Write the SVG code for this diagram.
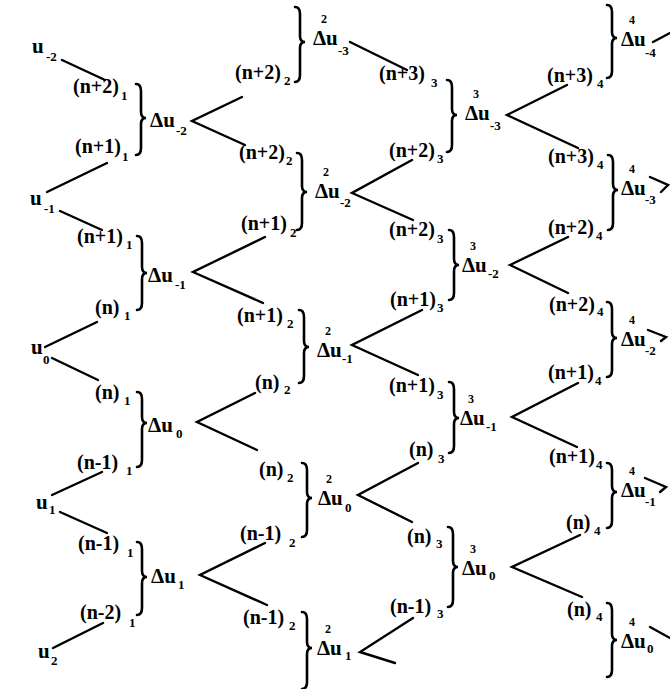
<svg xmlns="http://www.w3.org/2000/svg" width="670" height="689" viewBox="0 0 670 689">
<style>
.t{font-family:"Liberation Serif","DejaVu Serif",serif;font-weight:bold;font-size:20px;fill:#000}
.v{font-size:21px}
.sb{font-size:13px}
.sp{font-size:12px}
.c{stroke:#000;stroke-width:2.4;fill:none;stroke-linecap:round;stroke-linejoin:miter}
.br{stroke:#000;stroke-width:2.6;fill:none;stroke-linecap:round}
</style>
<rect width="670" height="689" fill="#fff"/>
<g id="connectors">
<line class="c" x1="62" y1="60" x2="105" y2="80"/>
<line class="c" x1="107" y1="163" x2="47" y2="192"/>
<line class="c" x1="60" y1="211" x2="102" y2="230"/>
<line class="c" x1="97" y1="322" x2="45" y2="347"/>
<line class="c" x1="52" y1="358" x2="98" y2="380"/>
<line class="c" x1="102" y1="472" x2="52" y2="495"/>
<line class="c" x1="60" y1="512" x2="107" y2="533"/>
<line class="c" x1="103" y1="623" x2="53" y2="648"/>
<polyline class="c" points="242,97 192,121 245,145"/>
<polyline class="c" points="265,237 193,272 263,303"/>
<polyline class="c" points="255,393 197,422 257,450"/>
<polyline class="c" points="265,543 200,575 267,605"/>
<line class="c" x1="350" y1="42" x2="407" y2="70"/>
<polyline class="c" points="412,160 352,193 413,220"/>
<polyline class="c" points="422,310 352,345 418,375"/>
<polyline class="c" points="418,463 358,495 412,522"/>
<polyline class="c" points="413,618 360,652 395,663"/>
<polyline class="c" points="567,85 507,115 578,148"/>
<polyline class="c" points="568,237 510,265 568,293"/>
<polyline class="c" points="578,383 512,417 577,447"/>
<polyline class="c" points="580,535 512,567 582,597"/>
<line class="c" x1="653" y1="42" x2="670" y2="33"/>
<polyline class="c" points="650,177 668,185 661,192"/>
<polyline class="c" points="648,330 666,337 661,341"/>
<polyline class="c" points="645,478 666,487 660,492"/>
<line class="c" x1="650" y1="627" x2="670" y2="638"/>
</g>
<g id="u-2"><text class="t v" x="32" y="53">u<tspan class="sb" x="46" y="61">-2</tspan></text></g>
<g id="u-1"><text class="t v" x="30" y="205">u<tspan class="sb" x="44" y="213">-1</tspan></text></g>
<g id="u0"><text class="t v" x="31" y="354">u<tspan class="sb" x="43" y="364">0</tspan></text></g>
<g id="u1"><text class="t v" x="36" y="509">u<tspan class="sb" x="49" y="514">1</tspan></text></g>
<g id="u2"><text class="t v" x="38" y="658">u<tspan class="sb" x="51" y="665">2</tspan></text></g>
<g id="l1a"><text class="t" x="73" y="93">(n+2)<tspan class="sb" x="121" y="100">1</tspan></text></g>
<g id="l1b"><text class="t" x="75" y="153">(n+1)<tspan class="sb" x="122" y="161">1</tspan></text></g>
<g id="l1c"><text class="t" x="77" y="243">(n+1)<tspan class="sb" x="126" y="249">1</tspan></text></g>
<g id="l1d"><text class="t" x="95" y="314">(n)<tspan class="sb" x="124" y="320">1</tspan></text></g>
<g id="l1e"><text class="t" x="95" y="399">(n)<tspan class="sb" x="124" y="405">1</tspan></text></g>
<g id="l1f"><text class="t" x="77" y="469">(n-1)<tspan class="sb" x="126" y="475">1</tspan></text></g>
<g id="l1g"><text class="t" x="78" y="550">(n-1)<tspan class="sb" x="127" y="557">1</tspan></text></g>
<g id="l1h"><text class="t" x="80" y="619">(n-2)<tspan class="sb" x="129" y="627">1</tspan></text></g>
<g id="d1u-2"><path class="br" d="M136,84 Q141,84 141,91 L141,112 Q141,118 146,118 Q141,118 141,124 L141,148 Q141,155 136,155"/><text class="t v" x="150" y="127">Δu<tspan class="sb" x="176" y="135">-2</tspan></text></g>
<g id="d1u-1"><path class="br" d="M137,236 Q142,236 142,243 L142,267 Q142,273 147,273 Q142,273 142,279 L142,303 Q142,310 137,310"/><text class="t v" x="148" y="282">Δu<tspan class="sb" x="175" y="289">-1</tspan></text></g>
<g id="d1u0"><path class="br" d="M137,392 Q142,392 142,399 L142,417 Q142,423 147,423 Q142,423 142,429 L142,460 Q142,467 137,467"/><text class="t v" x="148" y="432">Δu<tspan class="sb" x="176" y="438">0</tspan></text></g>
<g id="d1u1"><path class="br" d="M137,542 Q142,542 142,549 L142,571 Q142,577 147,577 Q142,577 142,583 L142,608 Q142,615 137,615"/><text class="t v" x="151" y="583">Δu<tspan class="sb" x="178" y="589">1</tspan></text></g>
<g id="l2a"><text class="t" x="235" y="79">(n+2)<tspan class="sb" x="284" y="85">2</tspan></text></g>
<g id="l2b"><text class="t" x="239" y="159">(n+2)<tspan class="sb" x="286" y="165">2</tspan></text></g>
<g id="l2c"><text class="t" x="241" y="230">(n+1)<tspan class="sb" x="290" y="237">2</tspan></text></g>
<g id="l2d"><text class="t" x="237" y="322">(n+1)<tspan class="sb" x="287" y="328">2</tspan></text></g>
<g id="l2e"><text class="t" x="255" y="389">(n)<tspan class="sb" x="284" y="394">2</tspan></text></g>
<g id="l2f"><text class="t" x="259" y="476">(n)<tspan class="sb" x="287" y="482">2</tspan></text></g>
<g id="l2g"><text class="t" x="240" y="540">(n-1)<tspan class="sb" x="289" y="547">2</tspan></text></g>
<g id="l2h"><text class="t" x="243" y="624">(n-1)<tspan class="sb" x="289" y="630">2</tspan></text></g>
<g id="d2u-3"><path class="br" d="M295,7 Q300,7 300,14 L300,36 Q300,42 305,42 Q300,42 300,48 L300,75 Q300,82 295,82"/><text class="t v" x="313" y="45">Δ<tspan class="sp" x="321" y="23">2</tspan><tspan x="326" y="45">u</tspan><tspan class="sb" x="338" y="55">-3</tspan></text></g>
<g id="d2u-2"><path class="br" d="M297,153 Q302,153 302,160 L302,186 Q302,192 307,192 Q302,192 302,198 L302,223 Q302,230 297,230"/><text class="t v" x="315" y="198">Δ<tspan class="sp" x="323" y="176">2</tspan><tspan x="328" y="198">u</tspan><tspan class="sb" x="340" y="207">-2</tspan></text></g>
<g id="d2u-1"><path class="br" d="M299,310 Q304,310 304,317 L304,341 Q304,347 309,347 Q304,347 304,353 L304,376 Q304,383 299,383"/><text class="t v" x="317" y="357">Δ<tspan class="sp" x="325" y="335">2</tspan><tspan x="330" y="357">u</tspan><tspan class="sb" x="342" y="363">-1</tspan></text></g>
<g id="d2u0"><path class="br" d="M302,463 Q307,463 307,470 L307,492 Q307,498 312,498 Q307,498 307,504 L307,530 Q307,537 302,537"/><text class="t v" x="318" y="505">Δ<tspan class="sp" x="326" y="483">2</tspan><tspan x="331" y="505">u</tspan><tspan class="sb" x="345" y="512">0</tspan></text></g>
<g id="d2u1"><path class="br" d="M302,612 Q307,612 307,619 L307,642 Q307,648 312,648 Q307,648 307,654 L307,682 Q307,689 302,689"/><text class="t v" x="317" y="655">Δ<tspan class="sp" x="325" y="633">2</tspan><tspan x="330" y="655">u</tspan><tspan class="sb" x="345" y="660">1</tspan></text></g>
<g id="l3a"><text class="t" x="379" y="80">(n+3)<tspan class="sb" x="431" y="87">3</tspan></text></g>
<g id="l3b"><text class="t" x="389" y="157">(n+2)<tspan class="sb" x="437" y="163">3</tspan></text></g>
<g id="l3c"><text class="t" x="389" y="236">(n+2)<tspan class="sb" x="437" y="243">3</tspan></text></g>
<g id="l3d"><text class="t" x="390" y="306">(n+1)<tspan class="sb" x="437" y="312">3</tspan></text></g>
<g id="l3e"><text class="t" x="389" y="392">(n+1)<tspan class="sb" x="437" y="399">3</tspan></text></g>
<g id="l3f"><text class="t" x="409" y="456">(n)<tspan class="sb" x="438" y="463">3</tspan></text></g>
<g id="l3g"><text class="t" x="407" y="543">(n)<tspan class="sb" x="436" y="548">3</tspan></text></g>
<g id="l3h"><text class="t" x="390" y="613">(n-1)<tspan class="sb" x="437" y="618">3</tspan></text></g>
<g id="d3u-3"><path class="br" d="M447,80 Q452,80 452,87 L452,109 Q452,115 457,115 Q452,115 452,121 L452,145 Q452,152 447,152"/><text class="t v" x="465" y="120">Δ<tspan class="sp" x="473" y="98">3</tspan><tspan x="478" y="120">u</tspan><tspan class="sb" x="490" y="130">-3</tspan></text></g>
<g id="d3u-2"><path class="br" d="M449,230 Q454,230 454,237 L454,259 Q454,265 459,265 Q454,265 454,271 L454,293 Q454,300 449,300"/><text class="t v" x="462" y="272">Δ<tspan class="sp" x="470" y="250">3</tspan><tspan x="475" y="272">u</tspan><tspan class="sb" x="488" y="278">-2</tspan></text></g>
<g id="d3u-1"><path class="br" d="M449,382 Q454,382 454,389 L454,412 Q454,418 459,418 Q454,418 454,424 L454,446 Q454,453 449,453"/><text class="t v" x="460" y="425">Δ<tspan class="sp" x="468" y="403">3</tspan><tspan x="473" y="425">u</tspan><tspan class="sb" x="486" y="431">-1</tspan></text></g>
<g id="d3u0"><path class="br" d="M448,527 Q453,527 453,534 L453,561 Q453,567 458,567 Q453,567 453,573 L453,600 Q453,607 448,607"/><text class="t v" x="462" y="575">Δ<tspan class="sp" x="470" y="553">3</tspan><tspan x="475" y="575">u</tspan><tspan class="sb" x="489" y="580">0</tspan></text></g>
<g id="l4a"><text class="t" x="547" y="82">(n+3)<tspan class="sb" x="597" y="88">4</tspan></text></g>
<g id="l4b"><text class="t" x="548" y="163">(n+3)<tspan class="sb" x="597" y="169">4</tspan></text></g>
<g id="l4c"><text class="t" x="548" y="234">(n+2)<tspan class="sb" x="596" y="240">4</tspan></text></g>
<g id="l4d"><text class="t" x="549" y="311">(n+2)<tspan class="sb" x="597" y="316">4</tspan></text></g>
<g id="l4e"><text class="t" x="548" y="379">(n+1)<tspan class="sb" x="595" y="385">4</tspan></text></g>
<g id="l4f"><text class="t" x="549" y="463">(n+1)<tspan class="sb" x="596" y="469">4</tspan></text></g>
<g id="l4g"><text class="t" x="566" y="529">(n)<tspan class="sb" x="594" y="535">4</tspan></text></g>
<g id="l4h"><text class="t" x="567" y="616">(n)<tspan class="sb" x="596" y="621">4</tspan></text></g>
<g id="d4u-4"><path class="br" d="M607,5 Q612,5 612,12 L612,32 Q612,38 617,38 Q612,38 612,44 L612,71 Q612,78 607,78"/><text class="t v" x="621" y="46">Δ<tspan class="sp" x="629" y="24">4</tspan><tspan x="634" y="46">u</tspan><tspan class="sb" x="645" y="57">-4</tspan></text></g>
<g id="d4u-3"><path class="br" d="M608,155 Q613,155 613,162 L613,184 Q613,190 618,190 Q613,190 613,196 L613,223 Q613,230 608,230"/><text class="t v" x="621" y="195">Δ<tspan class="sp" x="629" y="173">4</tspan><tspan x="634" y="195">u</tspan><tspan class="sb" x="645" y="204">-3</tspan></text></g>
<g id="d4u-2"><path class="br" d="M607,302 Q612,302 612,309 L612,332 Q612,338 617,338 Q612,338 612,344 L612,370 Q612,377 607,377"/><text class="t v" x="621" y="346">Δ<tspan class="sp" x="629" y="324">4</tspan><tspan x="634" y="346">u</tspan><tspan class="sb" x="645" y="355">-2</tspan></text></g>
<g id="d4u-1"><path class="br" d="M607,463 Q612,463 612,470 L612,486 Q612,492 617,492 Q612,492 612,498 L612,521 Q612,528 607,528"/><text class="t v" x="621" y="497">Δ<tspan class="sp" x="629" y="475">4</tspan><tspan x="634" y="497">u</tspan><tspan class="sb" x="645" y="506">-1</tspan></text></g>
<g id="d4u0"><path class="br" d="M607,603 Q612,603 612,610 L612,634 Q612,640 617,640 Q612,640 612,646 L612,670 Q612,677 607,677"/><text class="t v" x="621" y="648">Δ<tspan class="sp" x="629" y="626">4</tspan><tspan x="634" y="648">u</tspan><tspan class="sb" x="647" y="653">0</tspan></text></g>
</svg>
